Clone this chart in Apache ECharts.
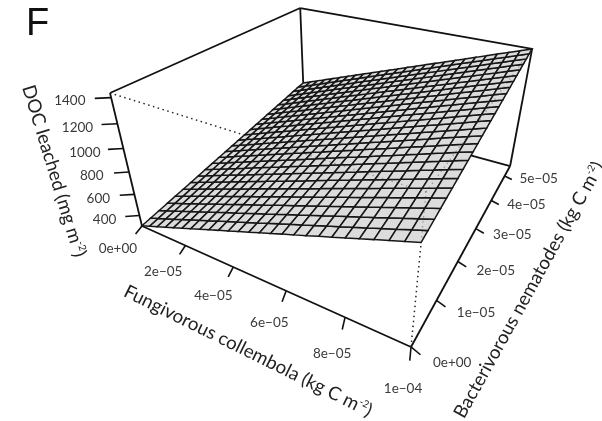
<!DOCTYPE html>
<html>
<head>
<meta charset="utf-8">
<style>html,body{margin:0;padding:0;background:#fff}#c{width:602px;height:421px}</style>
<script src="https://cdn.jsdelivr.net/npm/echarts@6/dist/echarts.min.js"></script>
</head>
<body>
<div id="c"></div>
<script>
// ---- data ----
const collembolaGrid = [0,0.4e-5,0.8e-5,1.2e-5,1.6e-5,2e-5,2.4e-5,2.8e-5,3.2e-5,3.6e-5,4e-5,4.4e-5,4.8e-5,5.2e-5,5.6e-5,6e-5,6.4e-5,6.8e-5,7.2e-5,7.6e-5,8e-5,8.4e-5,8.8e-5,9.2e-5,9.6e-5,1e-4];
const nematodeGrid = [0,0.218e-5,0.436e-5,0.654e-5,0.872e-5,1.09e-5,1.308e-5,1.526e-5,1.744e-5,1.962e-5,2.18e-5,2.398e-5,2.616e-5,2.834e-5,3.052e-5,3.27e-5,3.488e-5,3.706e-5,3.924e-5,4.142e-5,4.36e-5,4.578e-5,4.796e-5,5.014e-5,5.232e-5,5.45e-5];
const docAtNoNematodes = [300,332,365,397,430,462,495,527,560,592,624,657,689,722,754,787,819,851,884,916,949,981,1014,1046,1079,1111];
const docGainWithNematodes = [0,13,26,39,52,65,78,91,104,117,130,143,156,169,182,195,208,221,234,247,260,273,286,299,312,323];
const xTicks = [0,2e-5,4e-5,6e-5,8e-5,1e-4];
const xTickLabels = ['0e+00','2e−05','4e−05','6e−05','8e−05','1e−04'];
const yTicks = [0,1e-5,2e-5,3e-5,4e-5,5e-5];
const yTickLabels = ['0e+00','1e−05','2e−05','3e−05','4e−05','5e−05'];
const zTicks = [400,600,800,1000,1200,1400];
const zTickLabels = ['400','600','800','1000','1200','1400'];
const xRange = [0,1e-4], yRange = [0,5.45e-5], zRange = [298,1434];

// ---- perspective camera (homogeneous 3x4 matrix: columns x, y, z, origin) ----
const camX = [174.4, 41.1, -0.2302];
const camY = [289.5, -69.9, 0.418];
const camZ = [-47.16, -145.82, -0.1378];
const camO = [142, 226, 1];

function unit(v, r){ return (v - r[0]) / (r[1] - r[0]); }
function projectUnit(u, v, w){
  const h = [0,1,2].map(i => camO[i] + u*camX[i] + v*camY[i] + w*camZ[i]);
  return [h[0]/h[2], h[1]/h[2]];
}
function project(x, y, z){ return projectUnit(unit(x,xRange), unit(y,yRange), unit(z,zRange)); }

// box edges, in data values
const [x0,x1] = xRange, [y0,y1] = yRange, [z0,z1] = zRange;
const solidEdges = [
  [x0,y0,z1,x0,y1,z1],[x0,y1,z1,x1,y1,z1],[x0,y1,z0,x0,y1,z1],[x0,y0,z0,x0,y0,z1],
  [x1,y1,z0,x1,y1,z1],[x1,y1,z0,x0,y1,z0],[x0,y0,z0,x0,y1,z0],[x0,y0,z0,x1,y0,z0],[x1,y0,z0,x1,y1,z0]
];
const dottedEdges = [[x0,y0,z1,x1,y0,z1],[x1,y0,z1,x1,y1,z1],[x1,y0,z0,x1,y0,z1]];

const cells = [];
for (let i = 0; i < collembolaGrid.length-1; i++)
  for (let j = 0; j < nematodeGrid.length-1; j++) cells.push([i,j]);

// tick vectors in the unit cube and label offsets
const ticks = [];
xTicks.forEach((t,i)=>ticks.push({u:unit(t,xRange),v:0,w:0,du:0.014,dv:-0.04,text:xTickLabels[i],px:[-4,-2]}));
yTicks.forEach((t,i)=>ticks.push({u:1,v:unit(t,yRange),w:0,du:0.031,dv:-0.01,text:yTickLabels[i],px:[12,-8]}));
zTicks.forEach((t,i)=>ticks.push({u:0,v:0,w:unit(t,zRange),du:-0.0373,dv:-0.0273,text:zTickLabels[i],px:[8,1]}));

const titles = [
  {text:'DOC leached (mg m{s|-2})', at:[54,171], rot:-73},
  {text:'Fungivorous collembola (kg C m{s|-2})', at:[248,351], rot:-26.3},
  {text:'Bacterivorous nematodes (kg C m{s|-2})', at:[529,290], rot:61}
];

const FONT = 'Lato,"Open Sans",sans-serif';
const INK = '#111', TXT = '#3a3a3a';

function edgeSeries(list, style, z){
  return {
    type:'custom', z, silent:true, animation:false, clip:false,
    data:list.map((_,i)=>[i]), encode:{x:0,y:0},
    renderItem(p,api){
      const e = list[p.dataIndex];
      const a = api.coord(project(e[0],e[1],e[2])), b = api.coord(project(e[3],e[4],e[5]));
      return {type:'line', shape:{x1:a[0],y1:a[1],x2:b[0],y2:b[1]}, style};
    }
  };
}

const option = {
  animation:false,
  backgroundColor:'#fff',
  grid:{left:0,right:0,top:0,bottom:0},
  xAxis:{type:'value',min:0,max:602,show:false},
  yAxis:{type:'value',min:0,max:421,inverse:true,show:false},
  title:{text:'F',left:21,top:1,textStyle:{fontFamily:'"Liberation Sans",sans-serif',fontWeight:'normal',fontSize:38,color:'#111'}},
  series:[
    edgeSeries(solidEdges,{stroke:INK,lineWidth:1.8,fill:null},2),
    edgeSeries(dottedEdges,{stroke:'#222',lineWidth:1.4,lineDash:[1.4,3.6],fill:null},3),
    { type:'custom', z:4, silent:true, animation:false, clip:false,
      data:cells, encode:{x:0,y:1},
      renderItem(p,api){
        const [i,j] = cells[p.dataIndex];
        const pts = [[i,j],[i+1,j],[i+1,j+1],[i,j+1]].map(([a,b])=>
          api.coord(project(collembolaGrid[a],nematodeGrid[b],docAtNoNematodes[a]+docGainWithNematodes[b])));
        return {type:'polygon',shape:{points:pts},style:{fill:'#dcdcdc',stroke:'#161616',lineWidth:1.5}};
      }
    },
    edgeSeries(dottedEdges,{stroke:'#333',opacity:0.4,lineWidth:1.3,lineDash:[1.4,3.6],fill:null},5),
    { type:'custom', z:6, silent:true, animation:false, clip:false,
      data:ticks.map((_,i)=>[i]), encode:{x:0,y:0},
      renderItem(p,api){
        const t = ticks[p.dataIndex];
        const a = api.coord(projectUnit(t.u,t.v,t.w));
        const b = api.coord(projectUnit(t.u+t.du,t.v+t.dv,t.w));
        const c = api.coord(projectUnit(t.u+3*t.du,t.v+3*t.dv,t.w));
        return {type:'group',children:[
          {type:'line',shape:{x1:a[0],y1:a[1],x2:b[0],y2:b[1]},style:{stroke:INK,lineWidth:1.6,fill:null}},
          {type:'text',x:c[0]+t.px[0],y:c[1]+t.px[1],style:{text:t.text,fill:TXT,fontSize:13.5,fontFamily:FONT,textAlign:'center',textVerticalAlign:'middle'}}
        ]};
      }
    },
    { type:'custom', z:6, silent:true, animation:false, clip:false,
      data:titles.map((_,i)=>[i]), encode:{x:0,y:0},
      renderItem(p,api){
        const t = titles[p.dataIndex];
        const c = api.coord(t.at);
        return {type:'text',x:c[0],y:c[1],rotation:t.rot*Math.PI/180,
          style:{text:t.text,fill:'#222',fontSize:18.7,fontFamily:FONT,align:'center',verticalAlign:'middle',
            rich:{s:{fontSize:10,fontFamily:FONT,fill:'#222',verticalAlign:'top',lineHeight:18}}}};
      }
    }
  ]
};
const chart = echarts.init(document.getElementById('c'),null,{renderer:'canvas',width:602,height:421});
chart.setOption(option);
</script>
</body>
</html>
